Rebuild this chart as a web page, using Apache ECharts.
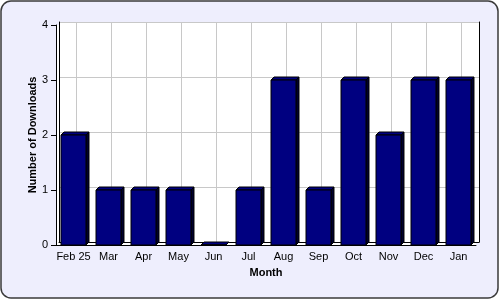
<!DOCTYPE html>
<html>
<head>
<meta charset="utf-8">
<script src="https://cdn.jsdelivr.net/npm/echarts@6/dist/echarts.min.js"></script>
<style>
html,body{margin:0;padding:0;background:#fff;}
#c{width:500px;height:300px;}
</style>
</head>
<body>
<div id="c"></div>
<script>
const categories = ['Feb 25','Mar','Apr','May','Jun','Jul','Aug','Sep','Oct','Nov','Dec','Jan'];
const downloads = [2,1,1,1,0,1,3,1,3,2,3,3];
const yMin = 0, yMax = 4, yStep = 1;
const xTitle = 'Month';
const yTitle = 'Number of Downloads';

const FONT = '"Liberation Sans", Arial, sans-serif';
const DEPTH = 3;
const chart = echarts.init(document.getElementById('c'), null, {renderer:'canvas'});

const front = {left:56, top:25, width:420, height:220};
const back = {left:front.left+DEPTH, top:front.top-DEPTH, width:420, height:220};
const band = front.width / categories.length;
const lines = {left:back.left+band/2, top:back.top, width:back.width-band, height:back.height};

function renderBar(params, api){
  const x = api.value(0), v = api.value(1);
  const t = api.coord([x, v]);
  const b = api.coord([x, 0]);
  const w = api.size([1,0])[0]*0.714;
  const l = t[0]-w/2, r = t[0]+w/2;
  const d = DEPTH;
  return {type:'group', children:[
    {type:'polygon', shape:{points:[[r,t[1]],[r+d,t[1]-d],[r+d,b[1]-d],[r,b[1]]]},
      style:{fill:'#00002e', stroke:'#000', lineWidth:1}},
    {type:'polygon', shape:{points:[[l,t[1]],[l+d,t[1]-d],[r+d,t[1]-d],[r,t[1]]]},
      style:{fill:'#000080', stroke:'#000', lineWidth:1}},
    {type:'rect', shape:{x:l, y:t[1], width:w, height:b[1]-t[1]},
      style:{fill:'#000080', stroke:'#000', lineWidth:1}}
  ]};
}

const option = {
  animation:false,
  textStyle:{fontFamily:FONT},
  graphic:[{type:'rect', z:-100, shape:{x:1,y:1,width:497,height:297,r:10},
    style:{fill:'#eeeefd', stroke:'#3a3a3a', lineWidth:1.5}}],
  grid:[
    Object.assign({show:true, backgroundColor:'#fff', borderWidth:0, z:1}, front),
    Object.assign({show:true, backgroundColor:'#fff', borderWidth:0, z:1}, back),
    Object.assign({show:false, z:2}, lines)
  ],
  xAxis:[
    {gridIndex:0, type:'category', data:categories, boundaryGap:true, z:3,
      name:xTitle, nameLocation:'middle', nameGap:22, nameMoveOverlap:false,
      nameTextStyle:{fontWeight:'bold', fontSize:11, color:'#000', fontFamily:FONT},
      axisLine:{lineStyle:{color:'#000', width:1}},
      axisTick:{alignWithLabel:true, interval:0, length:4, lineStyle:{color:'#000'}},
      axisLabel:{color:'#000', fontSize:11, margin:6, interval:0, fontFamily:FONT},
      splitLine:{show:false}},
    {gridIndex:1, type:'category', data:categories, position:'top', z:2,
      axisLine:{show:true, lineStyle:{color:'#000', width:1}},
      axisTick:{show:false}, axisLabel:{show:false}, splitLine:{show:false}},
    {gridIndex:2, type:'value', min:0, max:categories.length-1, interval:1, z:2,
      axisLine:{show:false}, axisTick:{show:false}, axisLabel:{show:false},
      splitLine:{show:true, lineStyle:{color:'#c8c8c8', width:1}}}
  ],
  yAxis:[
    {gridIndex:0, type:'value', min:yMin, max:yMax, interval:yStep, z:3,
      name:yTitle, nameLocation:'middle', nameGap:18, nameRotate:90, nameMoveOverlap:false,
      nameTextStyle:{fontWeight:'bold', fontSize:11, color:'#000', fontFamily:FONT},
      axisLine:{show:true, lineStyle:{color:'#000', width:1}},
      axisTick:{show:true, length:5, lineStyle:{color:'#000'}},
      axisLabel:{color:'#000', fontSize:11, margin:8, fontFamily:FONT},
      splitLine:{show:false}},
    {gridIndex:1, type:'value', min:yMin, max:yMax, interval:yStep, z:2,
      axisLine:{show:true, lineStyle:{color:'#000', width:1}},
      axisTick:{show:false}, axisLabel:{show:false},
      splitLine:{show:true, lineStyle:{color:'#c8c8c8', width:1}}},
    {gridIndex:1, type:'value', min:yMin, max:yMax, interval:yStep, position:'right', z:2,
      axisLine:{show:true, lineStyle:{color:'#000', width:1}},
      axisTick:{show:false}, axisLabel:{show:false}, splitLine:{show:false}},
    {gridIndex:2, type:'value', min:yMin, max:yMax, show:false}
  ],
  series:[{
    type:'custom', xAxisIndex:0, yAxisIndex:0, z:10,
    renderItem:renderBar,
    encode:{x:0, y:1},
    data:categories.map((c,i)=>[i, downloads[i]])
  }]
};
chart.setOption(option);
</script>
</body>
</html>
